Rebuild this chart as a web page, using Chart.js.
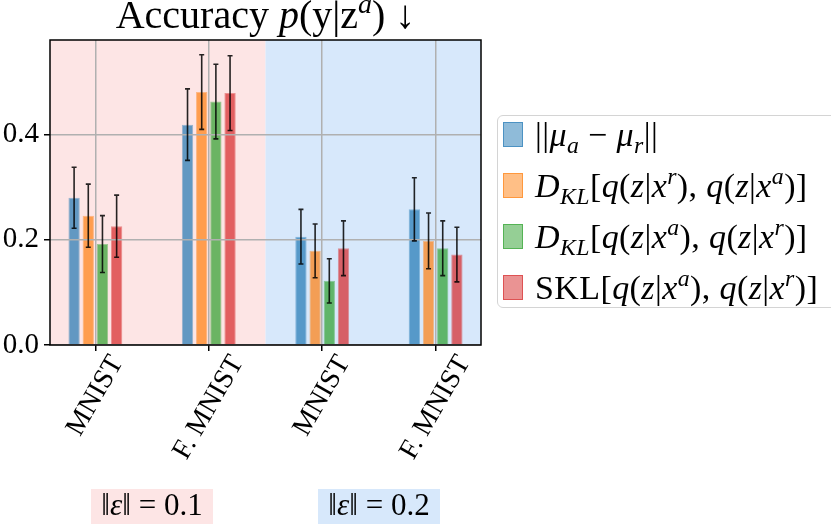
<!DOCTYPE html>
<html>
<head>
<meta charset="utf-8">
<script src="https://cdn.jsdelivr.net/npm/chart.js@4.4.1/dist/chart.umd.min.js"></script>
<style>
  body { margin: 0; width: 831px; height: 524px; overflow: hidden; background: #fff; position: relative;
         font-family: 'Liberation Serif', serif; color: #000; }
  #c { position: absolute; left: 0; top: 0; }
  .title { position: absolute; left: 0; top: -5px; width: 531px; text-align: center; font-size: 40px;
           line-height: 40px; white-space: nowrap; }
  .legend { position: absolute; left: 497px; top: 115px; width: 345px; height: 193px; border: 1px solid #d4d4d4;
            border-radius: 6px; box-sizing: border-box; }
  .row { position: absolute; left: 5px; height: 25px; }
  .patch { position: absolute; left: 0; top: 0; width: 20px; height: 25px; box-sizing: border-box; }
  .txt { position: absolute; left: 32px; top: 0; font-size: 34px; line-height: 25px; letter-spacing: 0.4px;
         white-space: nowrap; }
  sub, sup { font-size: 70%; line-height: 0; position: relative; vertical-align: baseline; }
  sup { top: -0.55em; }
  sub { top: 0.3em; }
  .eps { position: absolute; top: 489px; width: 122px; height: 40px; text-align: center; font-size: 31px;
         line-height: 30px; padding-top: 1px; white-space: nowrap; }
</style>
</head>
<body>
<canvas id="c" width="831" height="524"></canvas>
<div class="title">Accuracy <i>p</i>(y|z<sup><i>a</i></sup>) ↓</div>
<div class="legend" id="legend"></div>
<div class="eps" id="eps0" style="left:91px;background:#fde5e5"></div>
<div class="eps" id="eps1" style="left:318px;background:#d7e8fb"></div>
<script>
// categories and series
const categories = ['MNIST', 'F. MNIST', 'MNIST', 'F. MNIST'];
const seriesNames = ['||mu_a - mu_r||', 'D_KL[q(z|x^r), q(z|x^a)]', 'D_KL[q(z|x^a), q(z|x^r)]', 'SKL[q(z|x^a), q(z|x^r)]'];
const seriesLabels = [
  '||<i>μ</i><sub><i>a</i></sub> − <i>μ</i><sub><i>r</i></sub>||',
  '<i>D</i><sub><i>KL</i></sub>[<i>q</i>(<i>z</i>|<i>x</i><sup><i>r</i></sup>), <i>q</i>(<i>z</i>|<i>x</i><sup><i>a</i></sup>)]',
  '<i>D</i><sub><i>KL</i></sub>[<i>q</i>(<i>z</i>|<i>x</i><sup><i>a</i></sup>), <i>q</i>(<i>z</i>|<i>x</i><sup><i>r</i></sup>)]',
  'SKL[<i>q</i>(<i>z</i>|<i>x</i><sup><i>a</i></sup>), <i>q</i>(<i>z</i>|<i>x</i><sup><i>r</i></sup>)]'
];
const colors = ['31,119,180', '255,127,14', '44,160,44', '214,39,40'];

const normDiff    = [0.280, 0.419, 0.206, 0.258];
const normDiffErr = [0.058, 0.068, 0.052, 0.060];
const klRA        = [0.246, 0.481, 0.179, 0.198];
const klRAErr     = [0.060, 0.071, 0.051, 0.053];
const klAR        = [0.192, 0.463, 0.122, 0.184];
const klARErr     = [0.054, 0.071, 0.042, 0.052];
const skl         = [0.226, 0.479, 0.184, 0.172];
const sklErr      = [0.059, 0.071, 0.052, 0.052];

const yTicks = [0, 0.2, 0.4];
const epsLevels = ['0.1', '0.2'];

const seriesValues = [normDiff, klRA, klAR, skl];
const seriesErrors = [normDiffErr, klRAErr, klARErr, sklErr];

Chart.defaults.font.family = "'Liberation Serif', serif";
Chart.defaults.color = '#000';

// pink / blue halves behind the bars
const bands = {
  id: 'bands',
  beforeDraw(chart) {
    const { ctx, chartArea: a, scales: { x } } = chart;
    const mid = x.getPixelForValue(1.5);
    ctx.save();
    ctx.fillStyle = '#fde5e5';
    ctx.fillRect(a.left, a.top, mid - a.left, a.bottom - a.top);
    ctx.fillStyle = '#d7e8fb';
    ctx.fillRect(mid, a.top, a.right - mid, a.bottom - a.top);
    ctx.restore();
  }
};

// error bars, frame and rotated category labels
const extras = {
  id: 'extras',
  afterDraw(chart) {
    const { ctx, chartArea: a, scales: { x, y } } = chart;
    ctx.save();
    ctx.strokeStyle = 'rgba(0,0,0,0.85)';
    ctx.lineWidth = 1.6;
    chart.data.datasets.forEach((ds, k) => {
      chart.getDatasetMeta(k).data.forEach((bar, i) => {
        const v = seriesValues[k][i], e = seriesErrors[k][i];
        const yT = y.getPixelForValue(v + e), yB = y.getPixelForValue(v - e);
        ctx.beginPath();
        ctx.moveTo(bar.x, yT); ctx.lineTo(bar.x, yB);
        ctx.moveTo(bar.x - 2.5, yT); ctx.lineTo(bar.x + 2.5, yT);
        ctx.moveTo(bar.x - 2.5, yB); ctx.lineTo(bar.x + 2.5, yB);
        ctx.stroke();
      });
    });
    ctx.strokeStyle = '#000';
    ctx.lineWidth = 1.5;
    ctx.strokeRect(a.left, a.top, a.right - a.left, a.bottom - a.top);

    const fs = 28;
    ctx.font = fs + "px 'Liberation Serif'";
    ctx.fillStyle = '#000';
    ctx.textAlign = 'center';
    ctx.textBaseline = 'middle';
    const ang = Math.PI / 3;
    categories.forEach((c, i) => {
      const w = ctx.measureText(c).width;
      const h = fs;
      const cx = x.getPixelForValue(i);
      const cy = a.bottom + 6 + (w * Math.sin(ang) + h * Math.cos(ang)) / 2;
      ctx.save();
      ctx.translate(cx, cy);
      ctx.rotate(-ang);
      ctx.fillText(c, 0, 0);
      ctx.restore();
    });
    ctx.restore();
  }
};

const gridOpts = { color: '#b0b0b0', lineWidth: 1.5, z: 1, tickLength: 6, tickColor: '#000', tickWidth: 1.5, offset: false };

new Chart(document.getElementById('c'), {
  type: 'bar',
  data: {
    datasets: seriesValues.map((vals, k) => ({
      label: seriesNames[k],
      data: vals.map((v, i) => ({ x: i, y: v })),
      backgroundColor: `rgba(${colors[k]},0.7)`,
      borderColor: `rgba(${colors[k]},0.45)`,
      borderWidth: 1,
      categoryPercentage: 0.5,
      barPercentage: 0.8
    }))
  },
  options: {
    responsive: false,
    animation: false,
    layout: { padding: { top: 40, right: 350, left: 0, bottom: 0 } },
    plugins: { legend: { display: false }, tooltip: { enabled: false } },
    scales: {
      x: {
        type: 'linear', min: -0.4, max: 3.4, offset: false,
        afterBuildTicks: s => { s.ticks = categories.map((c, i) => ({ value: i })); },
        afterFit: s => { s.height = 179; },
        ticks: { display: false },
        grid: gridOpts,
        border: { display: false }
      },
      y: {
        min: 0, max: 0.58,
        afterBuildTicks: s => { s.ticks = yTicks.map(v => ({ value: v })); },
        afterFit: s => { s.width = 50; },
        ticks: { font: { size: 29 }, padding: 5, callback: v => v.toFixed(1) },
        grid: gridOpts,
        border: { display: false }
      }
    }
  },
  plugins: [bands, extras]
});

// legend built from the same series
const legend = document.getElementById('legend');
seriesLabels.forEach((html, k) => {
  const row = document.createElement('div');
  row.className = 'row';
  row.style.top = (6 + 51 * k) + 'px';
  row.innerHTML = `<div class="patch" style="background:rgba(${colors[k]},0.5);border:1px solid rgba(${colors[k]},0.6)"></div>` +
                  `<div class="txt">${html}</div>`;
  legend.appendChild(row);
});

epsLevels.forEach((lvl, i) => {
  document.getElementById('eps' + i).innerHTML = `‖<i>ε</i>‖ = ${lvl}`;
});
</script>
</body>
</html>
